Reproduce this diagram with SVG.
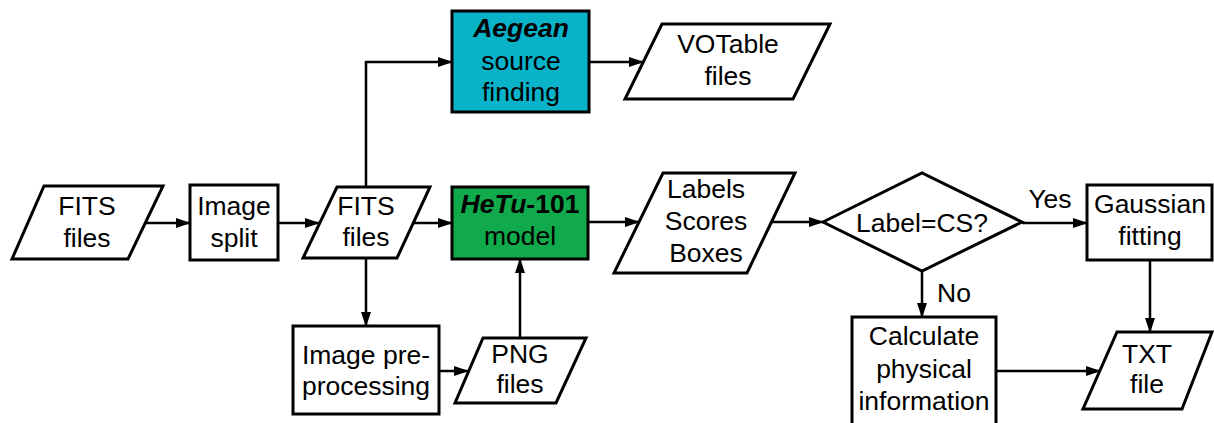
<svg xmlns="http://www.w3.org/2000/svg" width="1214" height="423" viewBox="0 0 1214 423">
  <style>
    .shape { fill: #ffffff; stroke: #000000; stroke-width: 3; stroke-linejoin: miter; }
    .aegean { fill: #08b3ca; }
    .hetu { fill: #10a94b; }
    .edge { fill: none; stroke: #000000; stroke-width: 2.5; marker-end: url(#arrow); }
    text { font-family: "Liberation Sans", Arial, Helvetica, sans-serif; font-size: 26.5px; fill: #000000; text-anchor: middle; }
    .b { font-weight: bold; }
    .i { font-style: italic; }
  </style>
  <defs>
    <marker id="arrow" markerUnits="userSpaceOnUse" markerWidth="15" markerHeight="10" refX="14" refY="5" orient="auto">
      <path d="M0,0 L15,5 L0,10 Z" fill="#000000"/>
    </marker>
  </defs>

  <!-- connectors -->
  <g id="connectors">
    <path class="edge" d="M145,223 H190"/>
    <path class="edge" d="M278,223 H319"/>
    <path class="edge" d="M413,223 H452"/>
    <path class="edge" d="M366,187 V62 H452"/>
    <path class="edge" d="M589,62 H643"/>
    <path class="edge" d="M366,258 V326"/>
    <path class="edge" d="M439,371 H468"/>
    <path class="edge" d="M520,338 V259"/>
    <path class="edge" d="M588,222 H639"/>
    <path class="edge" d="M772,222 H823"/>
    <path class="edge" d="M1022,223 H1087"/>
    <path class="edge" d="M922,271 V317"/>
    <path class="edge" d="M1150,260 V332"/>
    <path class="edge" d="M996,371 H1100"/>
  </g>

  <!-- input FITS files -->
  <g id="fits-in">
    <polygon class="shape" points="44,186 163,186 128,259 12,259"/>
    <text x="87" y="215">FITS</text>
    <text x="87" y="247">files</text>
  </g>

  <g id="image-split">
    <rect class="shape" x="190" y="185" width="88" height="75"/>
    <text x="234" y="215">Image</text>
    <text x="234" y="247">split</text>
  </g>

  <g id="fits-split">
    <polygon class="shape" points="337,187 430,187 397,258 303,258"/>
    <text x="366" y="215">FITS</text>
    <text x="366" y="246">files</text>
  </g>

  <g id="aegean">
    <rect class="shape aegean" x="452" y="11" width="137" height="101"/>
    <text x="521" y="37" class="b i">Aegean</text>
    <text x="521" y="70">source</text>
    <text x="521" y="101">finding</text>
  </g>

  <g id="votable">
    <polygon class="shape" points="662,24 830,24 793,99 625,99"/>
    <text x="728" y="53">VOTable</text>
    <text x="728" y="85">files</text>
  </g>

  <g id="hetu">
    <rect class="shape hetu" x="452" y="187" width="136" height="72"/>
    <text x="520" y="213" class="b"><tspan class="i">HeTu</tspan>-101</text>
    <text x="520" y="245">model</text>
  </g>

  <g id="preprocessing">
    <rect class="shape" x="293" y="326" width="146" height="88"/>
    <text x="366" y="364">Image pre-</text>
    <text x="366" y="395">processing</text>
  </g>

  <g id="png">
    <polygon class="shape" points="483,338 586,338 556,403 455,403"/>
    <text x="520" y="363">PNG</text>
    <text x="520" y="393">files</text>
  </g>

  <g id="outputs">
    <polygon class="shape" points="663,173 795,173 747,273 614,273"/>
    <text x="706" y="198">Labels</text>
    <text x="706" y="230">Scores</text>
    <text x="706" y="262">Boxes</text>
  </g>

  <g id="decision">
    <polygon class="shape" points="823,222 922,173 1022,222 922,271"/>
    <text x="922" y="232">Label=CS?</text>
  </g>

  <g id="edge-labels">
    <text x="1050" y="208">Yes</text>
    <text x="954" y="302">No</text>
  </g>

  <g id="gaussian">
    <rect class="shape" x="1087" y="185" width="125" height="75"/>
    <text x="1150" y="213">Gaussian</text>
    <text x="1150" y="245">fitting</text>
  </g>

  <g id="physical">
    <rect class="shape" x="852" y="317" width="144" height="120"/>
    <text x="924" y="345">Calculate</text>
    <text x="924" y="378">physical</text>
    <text x="924" y="410">information</text>
  </g>

  <g id="txt">
    <polygon class="shape" points="1117,332 1212,332 1182,409 1083,409"/>
    <text x="1147" y="363">TXT</text>
    <text x="1147" y="393">file</text>
  </g>
</svg>
